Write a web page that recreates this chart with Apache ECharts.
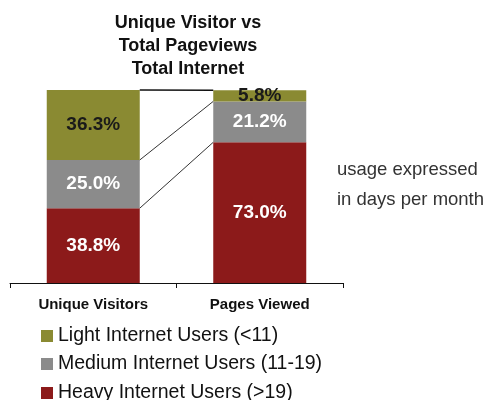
<!DOCTYPE html>
<html>
<head>
<meta charset="utf-8">
<script src="https://cdn.jsdelivr.net/npm/echarts@6/dist/echarts.min.js"></script>
<style>
  html, body { margin: 0; padding: 0; background: #fff; }
  #chart { width: 488px; height: 400px; }
</style>
</head>
<body>
<div id="chart"></div>
<script>
// Share of audience by usage intensity (days per month)
const categories = ['Unique Visitors', 'Pages Viewed'];
const seriesNames = ['Light Internet Users (<11)', 'Medium Internet Users (11-19)', 'Heavy Internet Users (>19)'];
const heavy = [38.8, 73.0];
const medium = [25.0, 21.2];
const light = [36.3, 5.8];

const colors = { light: '#8a8a32', medium: '#8b8b8b', heavy: '#8c1a1a' };
const BAR_W = 93;
const FONT = 'Liberation Sans, Arial, sans-serif';

// cumulative segment tops for the connector lines between the two bars
const cumHeavy = heavy.slice();
const cumMedium = heavy.map((v, i) => v + medium[i]);
const cumLight = cumMedium.map((v, i) => v + light[i]);
const connectors = [
  [cumHeavy[0], cumHeavy[1], 0],
  [cumMedium[0], cumMedium[1], 0],
  [cumLight[0], cumLight[1], 1]
];

const chart = echarts.init(document.getElementById('chart'), null, { renderer: 'canvas' });

const labelFmt = p => p.value.toFixed(1) + '%';

function barSeries(name, data, color, labelColor) {
  return {
    name, type: 'bar', stack: 'total', data, barWidth: BAR_W,
    itemStyle: { color },
    label: {
      show: true, position: 'inside', formatter: labelFmt,
      color: labelColor, fontSize: 19, fontWeight: 'bold', fontFamily: FONT
    },
    emphasis: { disabled: true }
  };
}

// one legend row per series, stacked vertically
const legendTops = [326, 354, 383];
const legends = seriesNames.map((name, i) => ({
  orient: 'vertical', left: 41, top: legendTops[i], padding: 0,
  itemWidth: 12, itemHeight: 12,
  icon: 'rect',
  data: [name],
  textStyle: { fontSize: 19.5, color: '#111', fontFamily: FONT },
  selectedMode: false
}));

chart.setOption({
  animation: false,
  title: {
    text: 'Unique Visitor vs\nTotal Pageviews\nTotal Internet',
    left: 183, top: 7, textAlign: 'center',
    textStyle: { fontSize: 18, fontWeight: 'bold', lineHeight: 23, color: '#111', fontFamily: FONT }
  },
  legend: legends,
  grid: { left: 10, right: 145, top: 90, bottom: 117 },
  xAxis: {
    type: 'category', data: categories,
    axisLine: { lineStyle: { color: '#111', width: 1 } },
    axisTick: { show: true, length: 5, lineStyle: { color: '#111' } },
    axisLabel: { fontSize: 15, fontWeight: 'bold', color: '#111', margin: 14, fontFamily: FONT }
  },
  yAxis: { type: 'value', min: 0, max: cumLight[0], show: false, splitLine: { show: false } },
  graphic: [
    { type: 'text', left: 337, top: 155,
      style: { text: 'usage expressed\nin days per month', fontSize: 18.5, lineHeight: 30,
               fill: '#333', fontFamily: FONT } }
  ],
  series: [
    barSeries(seriesNames[2], heavy, colors.heavy, '#fff'),
    barSeries(seriesNames[1], medium, colors.medium, '#fff'),
    barSeries(seriesNames[0], light, colors.light, '#1a1a1a'),
    {
      type: 'custom', name: 'connectors', silent: true, z: 5,
      data: connectors,
      encode: { x: 2, y: [0, 1] },
      renderItem: function (params, api) {
        const a = api.coord([0, api.value(0)]);
        const b = api.coord([1, api.value(1)]);
        const top = api.value(2) === 1;
        return {
          type: 'line',
          shape: { x1: a[0] + BAR_W / 2, y1: a[1], x2: b[0] - BAR_W / 2, y2: b[1] },
          style: { stroke: top ? '#111' : '#333', lineWidth: top ? 1.5 : 1 }
        };
      }
    }
  ]
});
</script>
</body>
</html>
